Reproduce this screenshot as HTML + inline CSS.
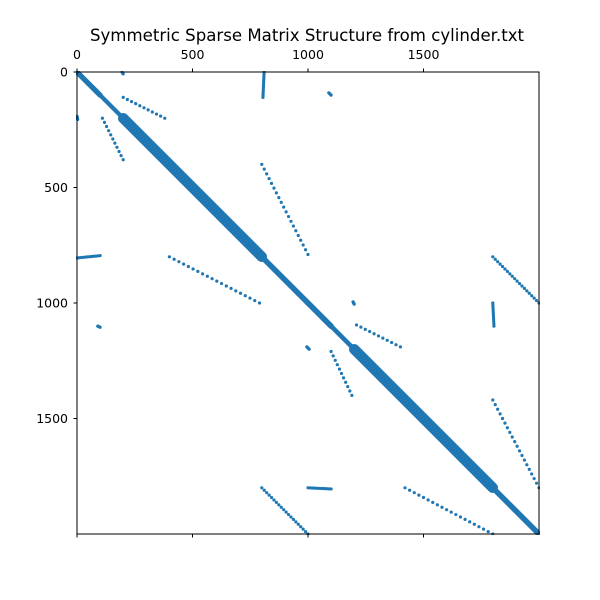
<!DOCTYPE html>
<html><head><meta charset="utf-8"><style>
body{margin:0;background:#fff}
svg{display:block;font-family:"DejaVu Sans","Liberation Sans",sans-serif}
</style></head><body>
<svg id="chart" width="600" height="600" viewBox="0 0 600 600">
<defs><clipPath id="clip"><rect x="76" y="71" width="464" height="464"/></clipPath></defs>
<rect width="600" height="600" fill="#fff"/>
<text x="307" y="41" font-size="16.6" text-anchor="middle">Symmetric Sparse Matrix Structure from cylinder.txt</text>
<g id="marks" clip-path="url(#clip)"></g>
<rect x="77" y="72" width="462" height="462" fill="none" stroke="#000" stroke-width="1"/>
<g id="axes"></g>
</svg>
<script>
const N = 2000;
const ticks = [0, 500, 1000, 1500];
const tickLabels = ["0", "500", "1000", "1500"];
// diagonal bands: start row, end row, half-width (data units)
const bandStart = [0, 100, 200, 800, 1000, 1100, 1200, 1800];
const bandEnd   = [100, 200, 800, 1000, 1100, 1200, 1800, 2000];
const bandHalf  = [16, 13, 32, 17, 17, 14, 32, 17];
// dotted off-diagonal lines: col0,row0,col1,row1,count
const lineC0 = [200, 110, 800, 400, 1800, 800, 1210, 1100, 1800, 1420];
const lineR0 = [110, 200, 400, 800, 800, 1800, 1095, 1210, 1420, 1800];
const lineC1 = [380, 200, 1000, 790, 2000, 1000, 1400, 1190, 2000, 1800];
const lineR1 = [200, 380, 790, 1000, 1000, 2000, 1190, 1400, 1800, 2000];
const lineN  = [11, 11, 20, 20, 20, 20, 11, 11, 20, 20];
// small clusters: col0,row0,col1,row1,count
const clC0 = [195, 0, 810, 0, 1090, 90, 995, 1195, 1800, 1000];
const clR0 = [0, 192, 0, 805, 90, 1100, 1190, 995, 1000, 1800];
const clC1 = [200, 3, 805, 100, 1100, 100, 1005, 1200, 1805, 1100];
const clR1 = [8, 205, 110, 795, 100, 1105, 1200, 1005, 1100, 1805];
const clN  = [4, 4, 14, 12, 4, 4, 4, 4, 12, 12];

const X0 = 77, Y0 = 72, S = 462;
const xs = c => X0 + c / N * S;
const ys = r => Y0 + r / N * S;
const NS = "http://www.w3.org/2000/svg";
const marks = document.getElementById('marks');
const axes = document.getElementById('axes');
const COL = "#1f77b4";

for (let i = 0; i < bandStart.length; i++) {
  const s = bandStart[i], e = bandEnd[i], w = bandHalf[i];
  const l = document.createElementNS(NS, 'line');
  l.setAttribute('x1', xs(s)); l.setAttribute('y1', ys(s));
  l.setAttribute('x2', xs(e)); l.setAttribute('y2', ys(e));
  l.setAttribute('stroke', COL);
  l.setAttribute('stroke-width', 2 * w * S / N / Math.SQRT2);
  l.setAttribute('stroke-linecap', 'round');
  
  
  marks.appendChild(l);
}
function dots(c0, r0, c1, r1, n, name) {
  for (let k = 0; k < n; k++) {
    const t = n > 1 ? k / (n - 1) : 0;
    const c = document.createElementNS(NS, 'circle');
    c.setAttribute('cx', xs(c0 + (c1 - c0) * t));
    c.setAttribute('cy', ys(r0 + (r1 - r0) * t));
    c.setAttribute('r', 1.6);
    c.setAttribute('fill', COL);
    
    
    marks.appendChild(c);
  }
}
for (let i = 0; i < lineN.length; i++) dots(lineC0[i], lineR0[i], lineC1[i], lineR1[i], lineN[i], 'nonzero-entry');
for (let i = 0; i < clN.length; i++) dots(clC0[i], clR0[i], clC1[i], clR1[i], clN[i], 'nonzero-cluster');

for (let i = 0; i < ticks.length; i++) {
  const x = xs(ticks[i]), y = ys(ticks[i]);
  const mk = (x1, y1, x2, y2) => {
    const l = document.createElementNS(NS, 'line');
    l.setAttribute('x1', x1); l.setAttribute('y1', y1);
    l.setAttribute('x2', x2); l.setAttribute('y2', y2);
    l.setAttribute('stroke', '#000');
    
    
    axes.appendChild(l);
  };
  mk(x, Y0, x, Y0 - 3.5);
  mk(x, Y0 + S, x, Y0 + S + 3.5);
  mk(X0, y, X0 - 3.5, y);
  const tx = document.createElementNS(NS, 'text');
  tx.setAttribute('x', x); tx.setAttribute('y', Y0 - 13);
  tx.setAttribute('font-size', '12.5'); tx.setAttribute('text-anchor', 'middle');
  tx.textContent = tickLabels[i];
  
  
  axes.appendChild(tx);
  const ty = document.createElementNS(NS, 'text');
  ty.setAttribute('x', X0 - 9); ty.setAttribute('y', y + 4.5);
  ty.setAttribute('font-size', '12.5'); ty.setAttribute('text-anchor', 'end');
  ty.textContent = tickLabels[i];
  
  
  axes.appendChild(ty);
}
</script>
</body></html>
